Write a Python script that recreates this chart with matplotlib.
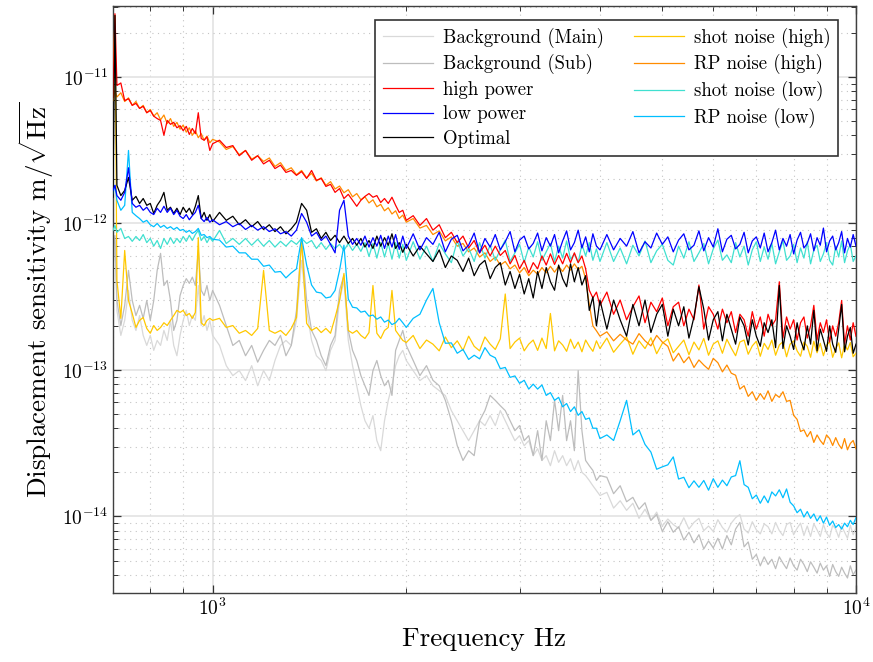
import numpy as np
import matplotlib
matplotlib.use("Agg")
import matplotlib.pyplot as plt
from matplotlib.ticker import NullFormatter

plt.rcParams["font.family"] = "serif"
plt.rcParams["font.serif"] = ["cmr10"]
plt.rcParams["mathtext.fontset"] = "cm"
plt.rcParams["axes.formatter.use_mathtext"] = True

PM = 1e-12  # spectra below are in pm/sqrt(Hz)

freq = [700, 705, 710, 720, 730, 740, 750, 760, 770, 780, 790,
        800, 810, 820, 830, 840, 850, 860, 870, 880, 890,
        900, 910, 920, 930, 940, 950, 960, 970, 980, 990, 1000,
        1025, 1050, 1075, 1100, 1125, 1150, 1175, 1200, 1225, 1250,
        1275, 1300, 1325, 1350, 1375, 1400, 1425, 1450, 1475, 1500,
        1525, 1550, 1575, 1600, 1625, 1650, 1675, 1700, 1725, 1750,
        1775, 1800, 1825, 1850, 1875, 1900, 1925, 1950, 1975, 2000,
        2050, 2100, 2150, 2200, 2250, 2300, 2350, 2400, 2450, 2500,
        2550, 2600, 2650, 2700, 2750, 2800, 2850, 2900, 2950, 3000,
        3050, 3100, 3150, 3200, 3250, 3300, 3350, 3400, 3450, 3500,
        3550, 3600, 3650, 3700, 3750, 3800, 3850, 3900, 3950, 4000,
        4100, 4200, 4300, 4400, 4500, 4600, 4700, 4800, 4900, 5000,
        5100, 5200, 5300, 5400, 5500, 5600, 5700, 5800, 5900, 6000,
        6100, 6200, 6300, 6400, 6500, 6600, 6700, 6800, 6900, 7000,
        7100, 7200, 7300, 7400, 7500, 7600, 7700, 7800, 7900, 8000,
        8100, 8200, 8300, 8400, 8500, 8600, 8700, 8800, 8900, 9000,
        9100, 9200, 9300, 9400, 9500, 9600, 9700, 9800, 9900, 10000]

bg_main = [.478, .765, .255, .172, .218, .349, .218, .186, .235, .172, .147,
           .172, .136, .159, .147, .186, .159, .218, .147, .125, .172,
           .218, .255, .201, .235, .218, .377, .201, .235, .186, .218, .172,
           .147, .107, .0915, .099, .0846, .107, .078, .099, .0846, .116,
           .147, .159, .147, .218, .559, .255, .159, .125, .116, .099,
           .136, .159, .298, .408, .159, .107, .078, .057, .045, .04,
           .0488, .0329, .0281, .045, .062, .078, .107, .125, .136, .116,
           .099, .0846, .0915, .078, .0723, .0668, .0528, .045, .0385, .0329,
           .0385, .045, .0417, .0488, .0417, .0528, .045, .0385, .0329, .0356,
           .0304, .0329, .026, .029, .0241, .026, .0222, .0281, .0234, .026,
           .0222, .0248, .0206, .0241, .02, .019, .0176, .0162, .015, .0139,
           .0146, .0114, .0128, .011, .0123, .0097, .0112, .0094, .0107, .0086,
           .0096, .0088, .0083, .0098, .0082, .0091, .0097, .008, .0086, .0079,
           .0095, .0084, .0078, .009, .0098, .0103, .0082, .0077, .0092, .0081,
           .0076, .0089, .0085, .0076, .0091, .008, .0074, .0088, .0091, .0075,
           .0083, .009, .0074, .0086, .0073, .0089, .0081, .0073, .0088, .0077,
           .0072, .0087, .0082, .0072, .0086, .0078, .0071, .0087, .0075, .0084]

bg_sub = [.654, .828, .298, .201, .276, .478, .298, .235, .276, .225, .298,
          .218, .298, .478, .625, .377, .408, .298, .186, .218, .322,
          .377, .42, .39, .43, .377, .654, .349, .322, .377, .298, .349,
          .276, .201, .147, .159, .125, .147, .113, .136, .159, .147,
          .172, .125, .147, .255, .765, .298, .186, .159, .125, .107,
          .147, .172, .349, .442, .186, .136, .116, .0915, .078, .067,
          .099, .116, .0915, .078, .085, .067, .136, .159, .186, .147,
          .116, .0915, .107, .085, .078, .062, .045, .0304, .0241, .0281,
          .026, .045, .0528, .067, .062, .057, .0528, .045, .0385, .0417,
          .0329, .0356, .026, .0385, .0241, .045, .0329, .062, .0385, .067,
          .0329, .045, .0281, .099, .0385, .0241, .0222, .0206, .0176, .019,
          .0185, .0143, .0162, .0126, .0135, .0112, .0124, .0094, .0103, .0079,
          .0092, .0078, .0085, .0069, .0078, .0066, .0075, .006, .0068, .0061,
          .0071, .006, .0074, .0064, .0082, .0091, .0062, .0067, .0051, .0055,
          .0046, .0053, .0047, .0051, .0044, .0053, .0048, .0044, .0052, .0046,
          .0043, .0051, .0047, .0042, .0049, .0045, .0041, .0048, .0043, .0046,
          .0039, .0047, .0042, .0039, .0045, .0041, .0038, .0046, .004, .0043]

high_power = [7.25, 27.0, 8.75, 9.1, 6.9, 7.1, 6.4, 6.6, 6.1, 6.3, 5.7,
              5.9, 5.4, 5.2, 5.05, 4.0, 5.05, 4.75, 4.9, 4.5, 4.65,
              4.3, 4.6, 4.05, 4.45, 4.1, 5.7, 3.8, 3.7, 3.9, 3.15, 3.5,
              3.7, 3.3, 3.4, 2.9, 3.15, 2.7, 2.9, 2.55, 2.7, 2.37,
              2.5, 2.23, 2.3, 2.13, 2.26, 2.03, 2.3, 1.97, 2.03, 1.79,
              1.85, 1.63, 1.73, 1.48, 1.58, 1.44, 1.31, 1.44, 1.53, 1.6,
              1.51, 1.55, 1.39, 1.48, 1.37, 1.51, 1.33, 1.19, 1.23, 1.05,
              1.13, .97, 1.08, .9, .98, .8, .87, .74, .82, .68,
              .765, .63, .71, .6, .7, .605, .654, .53, .605, .49,
              .56, .46, .54, .49, .6, .52, .62, .525, .605, .53,
              .625, .54, .63, .54, .6, .49, .35, .31, .34, .276,
              .34, .24, .30, .22, .27, .32, .21, .29, .25, .31,
              .20, .27, .29, .20, .26, .22, .38, .19, .27, .24,
              .19, .26, .21, .25, .18, .24, .22, .17, .25, .19,
              .23, .17, .24, .20, .22, .40, .165, .23, .19, .22,
              .16, .21, .23, .165, .20, .276, .16, .21, .18, .22,
              .155, .20, .17, .21, .298, .15, .20, .16, .21, .17]

low_power = [1.68, 1.82, 1.55, 1.44, 1.63, 2.4, 1.37, 1.29, 1.33, 1.23, 1.29,
             1.19, 1.15, 1.27, 1.19, 1.31, 1.19, 1.27, 1.15, 1.23, 1.12,
             1.08, 1.15, 1.06, 1.13, 1.19, 1.33, 1.08, 1.03, 1.10, 1.02, 1.06,
             .98, 1.03, .95, 1.0, .91, .97, .90, .95, .88, .92,
             .85, .88, .82, .90, 1.17, 1.02, .82, .87, .765, .82,
             .72, .63, 1.23, 1.44, .82, .72, .79, .71, .82, .69,
             .80, .70, .83, .675, .82, .69, .84, .665, .82, .675,
             .85, .66, .80, .72, .87, .64, .78, .83, .65, .71,
             .86, .63, .79, .69, .84, .66, .75, .88, .64, .77,
             .82, .67, .73, .86, .65, .80, .70, .84, .63, .76,
             .89, .66, .74, .90, .68, .81, .64, .85, .70, .66,
             .84, .66, .79, .70, .88, .63, .75, .68, .86, .72,
             .81, .64, .77, .85, .66, .71, .89, .65, .80, .69,
             .92, .64, .78, .83, .67, .72, .87, .63, .76, .81,
             .68, .86, .64, .74, .90, .66, .79, .70, .84, .62,
             .77, .87, .68, .73, .85, .65, .80, .71, .93, .64,
             .76, .82, .66, .74, .88, .63, .79, .69, .84, .70]

optimal = [1.51, 26.3, 1.82, 1.55, 1.68, 2.06, 1.44, 1.53, 1.37, 1.48, 1.33,
           1.37, 1.17, 1.33, 1.44, 1.63, 1.23, 1.29, 1.17, 1.27, 1.15,
           1.29, 1.19, 1.27, 1.15, 1.31, 1.55, 1.08, 1.19, 1.05, 1.15, 1.03,
           1.19, 1.05, 1.12, .98, 1.06, .95, 1.03, .91, .98, .88,
           .95, .85, .92, 1.02, 1.37, 1.23, .87, .92, .79, .87,
           .765, .83, .74, .82, .73, .79, .71, .79, .69, .765,
           .675, .82, .70, .80, .71, .85, .675, .74, .635, .72,
           .60, .70, .62, .55, .66, .50, .60, .56, .47, .58,
           .44, .52, .56, .42, .50, .54, .38, .47, .36, .45,
           .33, .42, .31, .47, .36, .50, .40, .35, .52, .42,
           .37, .53, .40, .50, .38, .44, .255, .315, .20, .30,
           .19, .30, .22, .17, .28, .20, .30, .18, .24, .28,
           .17, .26, .20, .27, .165, .23, .37, .26, .16, .22,
           .25, .158, .24, .19, .15, .23, .20, .148, .22, .17,
           .145, .21, .18, .22, .142, .377, .14, .20, .17, .138,
           .21, .16, .137, .20, .15, .255, .135, .19, .16, .134,
           .20, .15, .132, .19, .28, .133, .17, .195, .13, .15]

shot_high = [6.9, 26.3, .408, .225, .654, .298, .243, .195, .218, .228, .192,
             .178, .201, .186, .195, .21, .201, .218, .235, .255, .247,
             .255, .235, .243, .225, .247, .80, .21, .201, .218, .225, .218,
             .225, .195, .201, .178, .186, .172, .192, .478, .186, .178,
             .186, .172, .192, .228, .765, .208, .186, .195, .18, .192,
             .178, .228, .298, .456, .186, .178, .186, .172, .164, .18,
             .377, .178, .164, .186, .195, .349, .186, .172, .159, .154,
             .172, .14, .16, .15, .135, .168, .142, .158, .136, .17,
             .145, .135, .168, .15, .138, .163, .33, .14, .155, .165,
             .135, .15, .16, .136, .165, .14, .243, .135, .158, .148,
             .134, .162, .14, .155, .133, .16, .145, .134, .158, .14,
             .165, .132, .150, .168, .128, .158, .140, .166, .129, .152,
             .163, .131, .145, .160, .127, .155, .137, .164, .126, .150,
             .158, .130, .162, .141, .125, .155, .160, .128, .146, .157,
             .124, .152, .138, .160, .126, .148, .156, .123, .150, .158,
             .135, .124, .155, .145, .122, .157, .131, .152, .125, .147,
             .156, .122, .140, .153, .121, .150, .137, .154, .123, .13]

rp_high = [6.9, 8.1, 7.3, 7.8, 6.8, 7.2, 6.4, 6.8, 6.1, 6.4, 5.7,
           6.0, 5.4, 5.7, 5.1, 5.5, 4.8, 5.2, 4.6, 4.9, 4.4,
           4.7, 4.2, 4.5, 4.0, 4.3, 3.85, 4.1, 3.7, 3.95, 3.55, 3.75,
           3.6, 3.2, 3.35, 2.95, 3.15, 2.75, 2.9, 2.65, 2.8, 2.45,
           2.6, 2.3, 2.4, 2.15, 2.3, 2.05, 2.2, 1.95, 2.05, 1.82,
           1.93, 1.72, 1.8, 1.62, 1.7, 1.52, 1.6, 1.45, 1.52, 1.38,
           1.45, 1.3, 1.35, 1.22, 1.28, 1.16, 1.22, 1.08, 1.14, 1.02,
           1.08, .93, .97, .84, .89, .76, .81, .70, .73, .64,
           .68, .59, .63, .55, .59, .52, .55, .49, .52, .46,
           .50, .44, .48, .45, .50, .46, .51, .465, .51, .47,
           .52, .48, .53, .485, .51, .42, .28, .20, .185, .17,
           .182, .158, .175, .16, .15, .177, .158, .146, .172, .155,
           .145, .115, .13, .112, .123, .104, .117, .108, .101, .12,
           .112, .097, .108, .095, .092, .074, .078, .066, .071, .062,
           .069, .063, .072, .061, .068, .065, .071, .061, .062, .049,
           .046, .038, .039, .035, .038, .032, .036, .033, .031, .036,
           .034, .0305, .0345, .031, .029, .034, .0285, .0315, .033, .029]

shot_low = [.896, .97, .87, .925, .79, .815, .755, .815, .765, .84, .74,
            .79, .70, .765, .675, .79, .72, .80, .73, .79, .74,
            .815, .755, .83, .765, .84, .896, .765, .815, .74, .80, .755,
            .896, .73, .79, .72, .79, .71, .78, .70, .765, .69,
            .755, .70, .765, .72, .79, .73, .765, .675, .74, .665,
            .73, .675, .72, .654, .73, .654, .72, .645, .74, .595,
            .73, .58, .74, .59, .73, .57, .74, .58, .72, .56,
            .75, .57, .70, .55, .73, .62, .54, .76, .60, .68,
            .55, .74, .58, .71, .56, .66, .77, .55, .63, .72,
            .54, .69, .59, .75, .56, .64, .73, .55, .70, .58,
            .76, .57, .62, .54, .72, .60, .74, .56, .67, .55,
            .74, .55, .68, .53, .71, .60, .76, .54, .65, .72,
            .56, .52, .70, .58, .75, .55, .63, .73, .53, .67,
            .77, .56, .61, .54, .74, .59, .70, .52, .66, .75,
            .55, .69, .57, .73, .53, .64, .76, .56, .60, .72,
            .54, .68, .58, .75, .53, .66, .71, .55, .62, .74,
            .56, .52, .70, .59, .76, .54, .65, .72, .55, .60]

rp_low = [1.6, 1.82, 1.44, 1.23, 1.33, 3.15, 1.19, 1.13, 1.08, 1.02, 1.05,
          .98, .95, 1.0, .94, .97, .925, .95, .91, .94, .896,
          .91, .87, .896, .855, .88, .925, .83, .84, .80, .815, .78,
          .77, .69, .70, .63, .63, .57, .57, .51, .52, .465,
          .47, .425, .46, .49, .80, .52, .38, .34, .335, .31,
          .315, .349, .478, .71, .305, .268, .265, .248, .252, .233,
          .237, .222, .23, .212, .219, .204, .21, .225, .21, .195,
          .225, .24, .30, .36, .21, .152, .153, .13, .138, .118,
          .126, .119, .142, .126, .121, .102, .104, .089, .091, .081,
          .085, .074, .08, .074, .079, .067, .07, .062, .065, .056,
          .059, .052, .056, .049, .052, .046, .047, .04, .04, .034,
          .036, .033, .045, .062, .036, .039, .031, .0275, .021, .0218,
          .0225, .0255, .018, .0185, .0157, .0175, .0158, .0176, .0151, .0181,
          .0158, .0177, .0162, .0186, .019, .024, .0165, .0158, .0132, .014,
          .0123, .0138, .0124, .0147, .0138, .0152, .0134, .0154, .0125, .0118,
          .0106, .0112, .0099, .0108, .0097, .0104, .0093, .0101, .009, .0099,
          .0087, .0093, .0084, .0088, .0082, .009, .0085, .0094, .0088, .0098]

series = [
    ("Background (Main)", bg_main, "#d9d9d9", 1),
    ("Background (Sub)", bg_sub, "#bdbdbd", 2),
    ("high power", high_power, "#ff0000", 7),
    ("low power", low_power, "#0000ff", 9),
    ("Optimal", optimal, "#000000", 8),
    ("shot noise (high)", shot_high, "#ffc800", 3),
    ("RP noise (high)", rp_high, "#ff8c00", 4),
    ("shot noise (low)", shot_low, "#40e0d0", 5),
    ("RP noise (low)", rp_low, "#00bfff", 6),
]

fig = plt.figure(figsize=(8.73, 6.62), dpi=100)
ax = fig.add_axes([0.1294, 0.1042, 0.8511, 0.8867])

f = np.array(freq, dtype=float)
handles = []
for label, vals, color, z in series:
    ln, = ax.plot(f, np.array(vals) * PM, color=color, lw=0.9, label=label, zorder=z)
    handles.append(ln)

ax.set_xscale("log")
ax.set_yscale("log")
ax.set_xlim(700, 10000)
ax.set_ylim(3e-15, 3.05e-11)
ax.set_xticks([1e3, 1e4])
ax.set_yticks([1e-14, 1e-13, 1e-12, 1e-11])
ax.xaxis.set_minor_formatter(NullFormatter())
ax.yaxis.set_minor_formatter(NullFormatter())

ax.set_axisbelow(True)
ax.grid(which="major", color="#e3e3e3", lw=1.2, ls="-")
ax.grid(which="minor", color="#c4c4c4", lw=0.8, ls=(0, (1, 4)))

ax.tick_params(which="both", direction="in", top=True, right=True,
               color="#333333", labelsize=14)
ax.tick_params(which="major", length=6, width=0.9)
ax.tick_params(which="minor", length=3.5, width=0.7)
for sp in ax.spines.values():
    sp.set_color("#404040")
    sp.set_linewidth(1.0)

ax.set_xlabel("Frequency Hz", fontsize=19.5, labelpad=6)
ax.set_ylabel(r"Displacement sensitivity m/$\sqrt{\mathrm{Hz}}$", fontsize=19.5, labelpad=4)

leg = ax.legend(handles=handles, ncol=2, loc="upper right",
                bbox_to_anchor=(0.9758, 0.9761), borderaxespad=0,
                fontsize=13.5, frameon=True, fancybox=False, framealpha=1,
                edgecolor="#333333", handlelength=2.7, handletextpad=0.5,
                columnspacing=1.6, labelspacing=0.35, borderpad=0.4)
leg.get_frame().set_linewidth(1.2)

fig.savefig("out.png", dpi=100)
